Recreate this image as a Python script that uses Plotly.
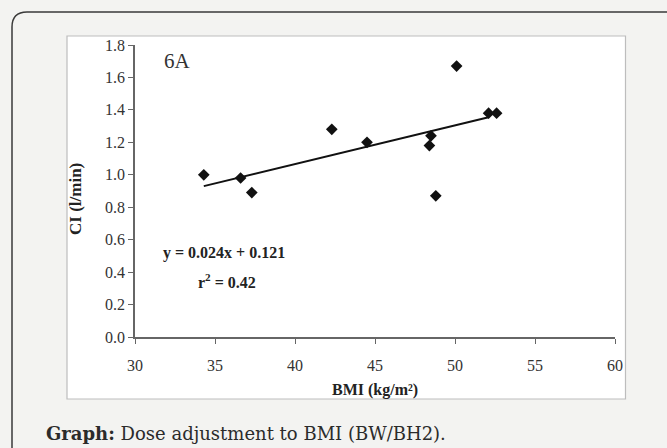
import plotly.graph_objects as go

# ---- data ----
bmi = [34.3, 36.6, 37.3, 42.3, 44.5, 48.5, 48.4, 48.8, 50.1, 52.1, 52.6]
ci = [1.00, 0.98, 0.89, 1.28, 1.20, 1.24, 1.18, 0.87, 1.67, 1.38, 1.38]
trend_x = [34.3, 52.1]
trend_y = [0.93, 1.355]
x_ticks = [30, 35, 40, 45, 50, 55, 60]
y_ticks = [0.0, 0.2, 0.4, 0.6, 0.8, 1.0, 1.2, 1.4, 1.6, 1.8]
panel_label = "6A"
equation = "y = 0.024x + 0.121"
r2_text = "r<sup>2</sup> = 0.42"
x_title = "BMI (kg/m²)"
y_title = "CI (l/min)"
caption = "<b>Graph:</b> Dose adjustment to BMI (BW/BH2)."

W, H = 667, 448
L, R, T, B = 135, 615, 45, 337  # plot area in pixels


def px(x):
    return (x - L) / (R - L)


def py(y):
    return (B - y) / (B - T)


serif = "Liberation Serif, Times New Roman, serif"
txt = "#333333"

fig = go.Figure()
fig.add_trace(go.Scatter(x=trend_x, y=trend_y, mode="lines",
                         line=dict(color="#111111", width=2), hoverinfo="skip"))
fig.add_trace(go.Scatter(x=bmi, y=ci, mode="markers",
                         marker=dict(symbol="diamond", size=9, color="#111111")))

# outer rounded box (open to the right and bottom) and inner white panel
r = 15
path = (f"M {px(12)},{py(470)} L {px(12)},{py(12 + r)} "
        f"Q {px(12)},{py(12)} {px(12 + r)},{py(12)} L {px(690)},{py(12)}")
fig.add_shape(type="path", path=path, xref="paper", yref="paper",
              line=dict(color="#3a3a3a", width=1.5), layer="below")
fig.add_shape(type="rect", xref="paper", yref="paper",
              x0=px(67), x1=px(625.5), y0=py(399), y1=py(36),
              fillcolor="white", line=dict(color="#bdbdbd", width=1.2), layer="below")

annotations = [
    dict(x=31.7, y=1.70, xref="x", yref="y", text=panel_label, showarrow=False,
         xanchor="left", yanchor="middle", font=dict(family=serif, size=21, color=txt)),
    dict(x=31.65, y=0.517, xref="x", yref="y", text=f"<b>{equation}</b>", showarrow=False,
         xanchor="left", yanchor="middle", font=dict(family=serif, size=16, color="#222")),
    dict(x=33.8, y=0.345, xref="x", yref="y", text=f"<b>{r2_text}</b>", showarrow=False,
         xanchor="left", yanchor="middle", font=dict(family=serif, size=16, color="#222")),
    dict(x=px(375), y=py(390), xref="paper", yref="paper", text=f"<b>{x_title}</b>",
         showarrow=False, xanchor="center", yanchor="middle",
         font=dict(family=serif, size=16, color="#222")),
    dict(x=px(75), y=py(199), xref="paper", yref="paper", text=f"<b>{y_title}</b>",
         showarrow=False, textangle=-90, xanchor="center", yanchor="middle",
         font=dict(family=serif, size=17, color="#222")),
    dict(x=px(44), y=py(434), xref="paper", yref="paper", text=caption,
         showarrow=False, xanchor="left", yanchor="middle",
         font=dict(family="DejaVu Serif, serif", size=18, color="#2b2b2b")),
]

fig.update_layout(
    width=W, height=H,
    margin=dict(l=L, r=W - R, t=T, b=H - B),
    paper_bgcolor="#f3f3f1", plot_bgcolor="white",
    showlegend=False,
    annotations=annotations,
    xaxis=dict(range=[30, 60], tickvals=x_ticks, showgrid=False, zeroline=False,
               showline=True, linecolor="#666", linewidth=1.5, ticks="outside",
               ticklen=5, tickcolor="#666", ticklabelstandoff=8,
               tickfont=dict(family=serif, size=16, color=txt)),
    yaxis=dict(range=[0, 1.8], tickvals=y_ticks, tickformat=".1f", showgrid=False,
               zeroline=False, showline=True, linecolor="#666", linewidth=1.5,
               ticks="outside", ticklen=5, tickcolor="#666",
               tickfont=dict(family=serif, size=16, color=txt)),
)

fig.write_html("out.html", config={"displayModeBar": False},
               post_script="document.body.style.margin='0px';"
                           "document.body.style.overflow='hidden';")
